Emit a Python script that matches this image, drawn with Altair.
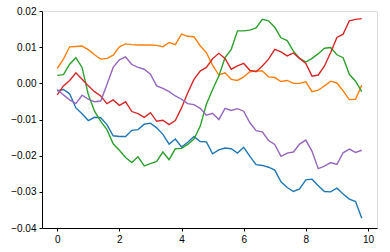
import altair as alt
import pandas as pd

x = [round(0.2 * i, 1) for i in range(50)]

s_blue = [-0.0021, -0.0017, -0.0029, -0.0068, -0.0084, -0.0103, -0.0094, -0.0095, -0.0114, -0.0145,
          -0.0147, -0.0147, -0.0130, -0.0128, -0.0113, -0.0110, -0.0123, -0.0141, -0.0168, -0.0154,
          -0.0176, -0.0163, -0.0147, -0.0161, -0.0162, -0.0195, -0.0184, -0.0179, -0.0181, -0.0193,
          -0.0177, -0.0202, -0.0225, -0.0227, -0.0232, -0.0240, -0.0272, -0.0288, -0.0299, -0.0292,
          -0.0267, -0.0265, -0.0283, -0.0299, -0.0300, -0.0290, -0.0306, -0.0320, -0.0327, -0.0373]
s_orange = [0.0041, 0.0067, 0.0101, 0.0102, 0.0103, 0.0093, 0.0079, 0.0067, 0.0069, 0.0078,
            0.0101, 0.0109, 0.0107, 0.0106, 0.0106, 0.0106, 0.0105, 0.0101, 0.0113, 0.0107,
            0.0136, 0.0130, 0.0129, 0.0104, 0.0085, 0.0050, 0.0023, 0.0029, 0.0011, 0.0008,
            0.0018, 0.0032, 0.0034, 0.0034, 0.0018, 0.0016, 0.0005, 0.0008, 0.0000, 0.0000,
            0.0004, -0.0023, -0.0019, -0.0007, 0.0006, 0.0001, -0.0021, -0.0045, -0.0044, -0.0005]
s_green = [0.0022, 0.0024, 0.0053, 0.0071, 0.0044, -0.0031, -0.0077, -0.0105, -0.0128, -0.0167,
           -0.0185, -0.0205, -0.0219, -0.0203, -0.0228, -0.0222, -0.0216, -0.0190, -0.0211, -0.0181,
           -0.0180, -0.0169, -0.0154, -0.0119, -0.0058, -0.0017, 0.0020, 0.0071, 0.0094, 0.0145,
           0.0145, 0.0147, 0.0153, 0.0177, 0.0173, 0.0155, 0.0126, 0.0118, 0.0089, 0.0069,
           0.0059, 0.0069, 0.0082, 0.0097, 0.0099, 0.0079, 0.0071, 0.0025, 0.0006, -0.0023]
s_red = [-0.0032, -0.0007, 0.0008, 0.0029, 0.0011, -0.0007, -0.0023, -0.0035, -0.0056, -0.0046,
         -0.0061, -0.0051, -0.0078, -0.0084, -0.0094, -0.0081, -0.0105, -0.0102, -0.0114, -0.0103,
         -0.0068, -0.0026, 0.0011, 0.0034, 0.0044, 0.0068, 0.0083, 0.0069, 0.0039, 0.0048,
         0.0055, 0.0036, 0.0032, 0.0048, 0.0067, 0.0094, 0.0087, 0.0076, 0.0084, 0.0069,
         0.0055, 0.0020, 0.0023, 0.0048, 0.0085, 0.0127, 0.0136, 0.0173, 0.0177, 0.0179]
s_purple = [-0.0017, -0.0032, -0.0046, -0.0056, -0.0033, -0.0044, -0.0051, -0.0049, -0.0003, 0.0044,
            0.0065, 0.0073, 0.0052, 0.0044, 0.0039, 0.0025, -0.0007, -0.0014, -0.0023, -0.0035,
            -0.0044, -0.0056, -0.0059, -0.0069, -0.0088, -0.0083, -0.0100, -0.0069, -0.0075, -0.0070,
            -0.0077, -0.0109, -0.0131, -0.0134, -0.0158, -0.0169, -0.0202, -0.0193, -0.0190, -0.0168,
            -0.0157, -0.0188, -0.0236, -0.0229, -0.0219, -0.0224, -0.0192, -0.0182, -0.0191, -0.0185]

series = [s_blue, s_orange, s_green, s_red, s_purple]
colors = ["#1f77b4", "#ff7f0e", "#2ca02c", "#d62728", "#9467bd"]
x_ticks = [0, 2, 4, 6, 8, 10]
y_ticks = [-0.04, -0.03, -0.02, -0.01, 0.0, 0.01, 0.02]

xs = alt.Scale(domain=[-0.49, 10.29], nice=False, zero=False)
ys = alt.Scale(domain=[-0.04, 0.02], nice=False, zero=False)
xa = alt.Axis(values=x_ticks, format="d", grid=False, title=None, tickSize=3,
              labelPadding=3, domainColor="black", tickColor="black")
ya = alt.Axis(values=y_ticks, format=".2f", grid=False, title=None, tickSize=3,
              labelPadding=3, domainColor="black", tickColor="black")

layers = []
for s, c in zip(series, colors):
    df = pd.DataFrame({"x": x, "y": s})
    layers.append(
        alt.Chart(df).mark_line(color=c, strokeWidth=1.4).encode(
            x=alt.X("x:Q", scale=xs, axis=xa),
            y=alt.Y("y:Q", scale=ys, axis=ya),
        )
    )

chart = alt.layer(*layers).properties(
    width=335, height=217,
    autosize=alt.AutoSizeParams(type="none"),
    padding={"left": 42, "top": 11, "right": 13, "bottom": 24},
).configure_view(stroke="black", strokeWidth=0.8).configure_axis(
    labelFont="DejaVu Sans", labelFontSize=9, labelColor="black",
    domainWidth=0.8, tickWidth=0.8,
).configure(background="white")

chart.save("out.html", embed_options={"renderer": "svg", "actions": False})
